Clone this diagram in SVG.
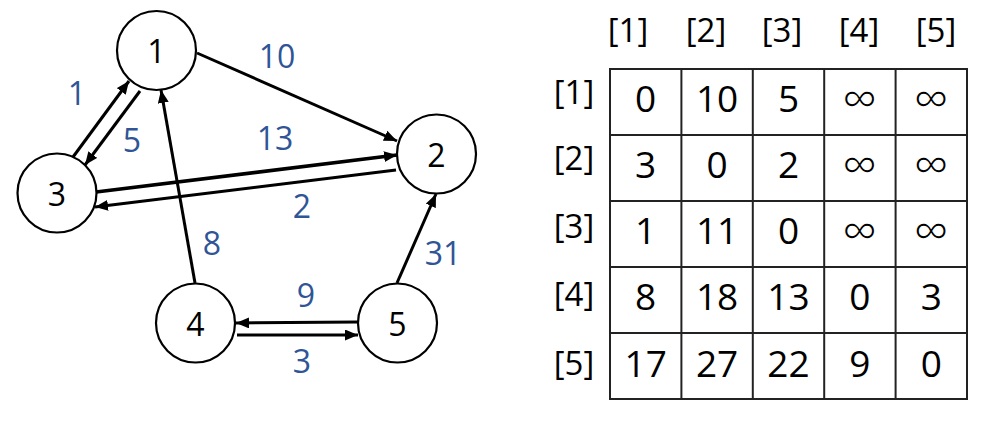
<svg xmlns="http://www.w3.org/2000/svg" width="992" height="423" viewBox="0 0 992 423">
<style>
.node circle{fill:#fff;stroke:#000;stroke-width:2.2}
.nl{font-family:"Open Sans","Noto Sans",sans-serif;font-size:32px;text-anchor:middle;fill:#000}
.edge{stroke:#000;stroke-width:3;fill:none;marker-end:url(#ah)}
.el{font-family:"Open Sans","Noto Sans",sans-serif;font-size:32px;text-anchor:middle;fill:#2F5597}
.hdr{font-family:"Open Sans","Noto Sans",sans-serif;font-size:33px;text-anchor:middle;fill:#000}
.cell{font-family:"Open Sans","Noto Sans",sans-serif;font-size:37px;text-anchor:middle;fill:#000}
.inf{font-family:"Open Sans","Noto Sans",sans-serif;font-size:48px;font-weight:300;text-anchor:middle;fill:#000}
.grid{stroke:#222;stroke-width:2;fill:none}
</style>
<defs>
<marker id="ah" markerUnits="userSpaceOnUse" markerWidth="13" markerHeight="11" refX="13" refY="5.5" orient="auto">
<path d="M0,0 L13,5.5 L0,11 z" fill="#000"/>
</marker>
</defs>
<rect width="992" height="423" fill="#fff"/>
<g id="connectors">
<line class="edge" x1="73" y1="157" x2="129" y2="81"/>
<line class="edge" x1="140" y1="91" x2="85" y2="165"/>
<line class="edge" x1="197" y1="53" x2="397" y2="141"/>
<line class="edge" x1="96" y1="192" x2="397" y2="155" style="stroke-width:3.6"/>
<line class="edge" x1="396" y1="170" x2="95" y2="207"/>
<line class="edge" x1="195" y1="283" x2="161" y2="90"/>
<line class="edge" x1="397" y1="283" x2="436" y2="194"/>
<line class="edge" x1="358" y1="322" x2="236" y2="323"/>
<line class="edge" x1="237" y1="335" x2="358" y2="335"/>
</g>
<g id="edge-labels">
<text class="el" x="77" y="105">1</text>
<text class="el" x="132" y="152">5</text>
<text class="el" x="277" y="68">10</text>
<text class="el" x="275" y="150">13</text>
<text class="el" x="302" y="218">2</text>
<text class="el" x="212" y="255">8</text>
<text class="el" x="443" y="265">31</text>
<text class="el" x="306" y="307">9</text>
<text class="el" x="302" y="373">3</text>
</g>
<g id="node1" class="node"><circle cx="156.5" cy="50.5" r="39.5"/><text class="nl" x="156.5" y="63">1</text></g>
<g id="node2" class="node"><circle cx="436.5" cy="154" r="39.5"/><text class="nl" x="436.5" y="166.5">2</text></g>
<g id="node3" class="node"><circle cx="57" cy="193" r="39.5"/><text class="nl" x="57" y="205.5">3</text></g>
<g id="node4" class="node"><circle cx="195.5" cy="323" r="39.5"/><text class="nl" x="195.5" y="335.5">4</text></g>
<g id="node5" class="node"><circle cx="397.5" cy="323" r="39.5"/><text class="nl" x="397.5" y="335.5">5</text></g>
<g id="matrix">
<rect class="grid" x="610" y="69" width="357" height="330"/>
<line class="grid" x1="681.4" y1="69" x2="681.4" y2="399"/>
<line class="grid" x1="752.8" y1="69" x2="752.8" y2="399"/>
<line class="grid" x1="824.2" y1="69" x2="824.2" y2="399"/>
<line class="grid" x1="895.6" y1="69" x2="895.6" y2="399"/>
<line class="grid" x1="610" y1="135" x2="967" y2="135"/>
<line class="grid" x1="610" y1="201" x2="967" y2="201"/>
<line class="grid" x1="610" y1="267" x2="967" y2="267"/>
<line class="grid" x1="610" y1="333" x2="967" y2="333"/>
<text class="hdr" x="628" y="42">[1]</text>
<text class="hdr" x="706" y="42">[2]</text>
<text class="hdr" x="782" y="42">[3]</text>
<text class="hdr" x="859" y="42">[4]</text>
<text class="hdr" x="936" y="42">[5]</text>
<text class="hdr" x="574" y="104">[1]</text>
<text class="hdr" x="574" y="170">[2]</text>
<text class="hdr" x="574" y="238">[3]</text>
<text class="hdr" x="574" y="306">[4]</text>
<text class="hdr" x="574" y="375">[5]</text>
<text class="cell" x="645.7" y="112">0</text><text class="cell" x="717.1" y="112">10</text><text class="cell" x="788.5" y="112">5</text><text class="inf" x="859.9" y="116">∞</text><text class="inf" x="931.3" y="116">∞</text>
<text class="cell" x="645.7" y="178">3</text><text class="cell" x="717.1" y="178">0</text><text class="cell" x="788.5" y="178">2</text><text class="inf" x="859.9" y="182">∞</text><text class="inf" x="931.3" y="182">∞</text>
<text class="cell" x="645.7" y="244">1</text><text class="cell" x="717.1" y="244">11</text><text class="cell" x="788.5" y="244">0</text><text class="inf" x="859.9" y="248">∞</text><text class="inf" x="931.3" y="248">∞</text>
<text class="cell" x="645.7" y="310">8</text><text class="cell" x="717.1" y="310">18</text><text class="cell" x="788.5" y="310">13</text><text class="cell" x="859.9" y="310">0</text><text class="cell" x="931.3" y="310">3</text>
<text class="cell" x="645.7" y="377">17</text><text class="cell" x="717.1" y="377">27</text><text class="cell" x="788.5" y="377">22</text><text class="cell" x="859.9" y="377">9</text><text class="cell" x="931.3" y="377">0</text>
</g>
</svg>
